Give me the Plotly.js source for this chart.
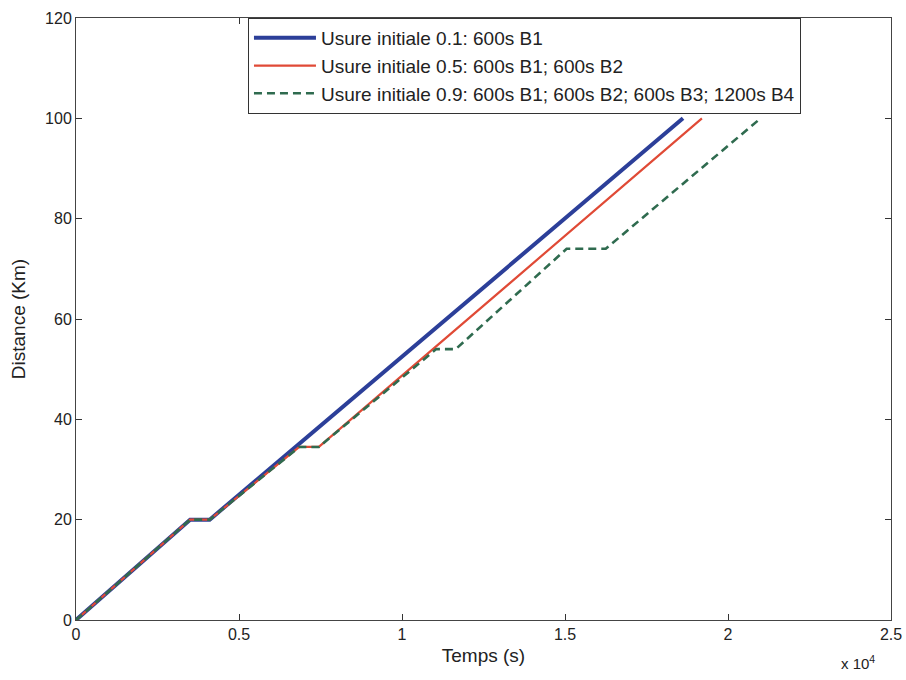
<!DOCTYPE html>
<html>
<head>
<meta charset="utf-8">
<script src="https://cdn.plot.ly/plotly-3.0.1.min.js"></script>
<style>html,body{margin:0;padding:0;background:#fff;}#chart{width:906px;height:680px;}</style>
</head>
<body>
<div id="chart"></div>
<script>
// Temps (s) and Distance (km) for each scenario
const blueTime = [0, 3500, 4100, 18620];
const blueDist = [0, 20, 20, 100];
const redTime = [0, 3500, 4100, 6850, 7450, 19200];
const redDist = [0, 20, 20, 34.5, 34.5, 100];
const greenTime = [0, 3500, 4100, 6850, 7450, 11050, 11650, 15050, 16250, 21000];
const greenDist = [0, 20, 20, 34.5, 34.5, 54, 54, 74, 74, 100];
const seriesNames = [
  "Usure initiale 0.1: 600s B1",
  "Usure initiale 0.5: 600s B1; 600s B2",
  "Usure initiale 0.9: 600s B1; 600s B2; 600s B3; 1200s B4"
];
const xTickVals = [0, 5000, 10000, 15000, 20000, 25000];
const xTickText = ["0", "0.5", "1", "1.5", "2", "2.5"];
const yTickVals = [0, 20, 40, 60, 80, 100, 120];

const fam = "Liberation Sans, Arial, sans-serif";
const tickFont = {family: fam, size: 16, color: "#222"};
const titleFont = {family: fam, size: 19, color: "#222"};

const traces = [
  {x: blueTime, y: blueDist, name: seriesNames[0], mode: "lines",
   line: {color: "#2c3f99", width: 4}},
  {x: redTime, y: redDist, name: seriesNames[1], mode: "lines",
   line: {color: "#e04a36", width: 2.2}},
  {x: greenTime, y: greenDist, name: seriesNames[2], mode: "lines",
   line: {color: "#2f6b4f", width: 2.6, dash: "8px,5px"}}
];

const layout = {
  width: 906, height: 680,
  margin: {l: 76, r: 15, t: 18, b: 60},
  paper_bgcolor: "#fff", plot_bgcolor: "#fff",
  font: tickFont,
  showlegend: true,
  legend: {
    x: 0.211, y: 1, xanchor: "left", yanchor: "top",
    bgcolor: "#fff", bordercolor: "#333", borderwidth: 1,
    font: {family: fam, size: 19, color: "#222"},
    itemwidth: 62, tracegroupgap: 0
  },
  xaxis: {
    range: [0, 25000], tickvals: xTickVals, ticktext: xTickText,
    ticks: "inside", ticklen: 6, tickcolor: "#333",
    showline: true, linecolor: "#444", linewidth: 1, mirror: "ticks",
    showgrid: false, zeroline: false,
    title: {text: "Temps (s)", font: titleFont, standoff: 6},
    tickfont: tickFont
  },
  yaxis: {
    range: [0, 120], tickvals: yTickVals,
    ticks: "inside", ticklen: 6, tickcolor: "#333",
    showline: true, linecolor: "#444", linewidth: 1, mirror: "ticks",
    showgrid: false, zeroline: false,
    title: {text: "Distance (Km)", font: titleFont, standoff: 14},
    tickfont: tickFont
  },
  annotations: [{
    xref: "paper", yref: "paper", x: 0.96, y: -0.07,
    xanchor: "center", yanchor: "middle", showarrow: false,
    text: "x 10<sup>4</sup>", font: {family: fam, size: 15, color: "#222"}
  }]
};

Plotly.newPlot("chart", traces, layout, {displayModeBar: false, staticPlot: true});
</script>
</body>
</html>
